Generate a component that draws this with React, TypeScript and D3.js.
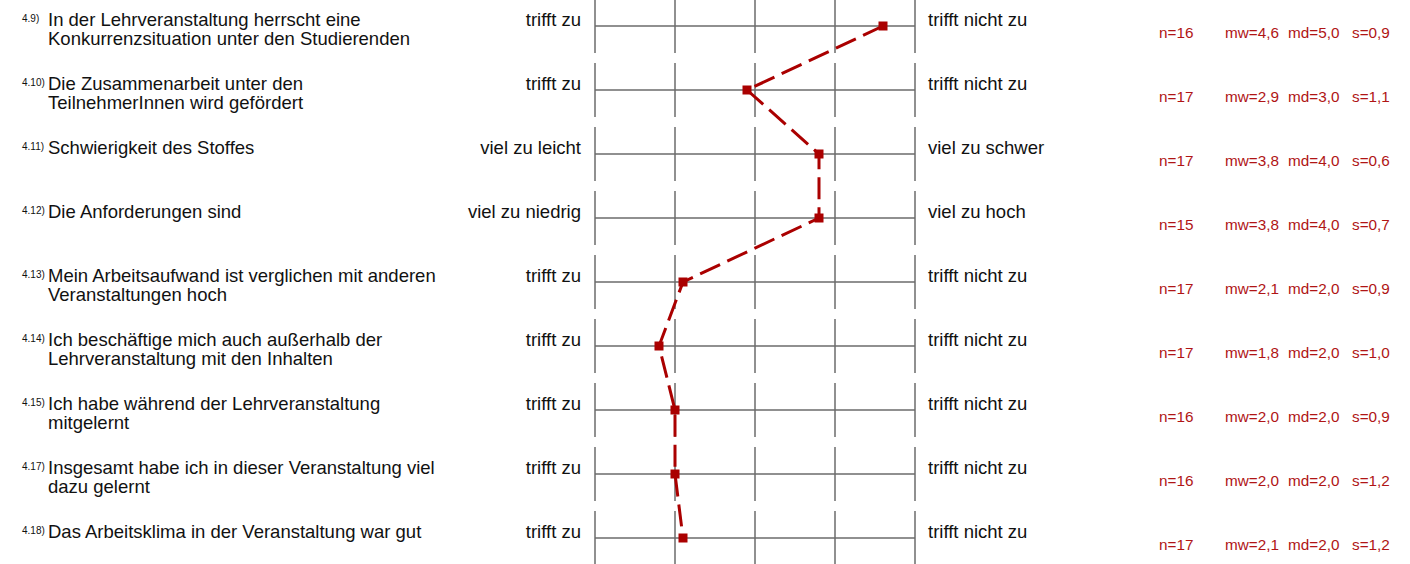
import React from "react";
import * as d3 from "d3";

const ids = ["4.9)", "4.10)", "4.11)", "4.12)", "4.13)", "4.14)", "4.15)", "4.17)", "4.18)"];
const questions: string[][] = [
  ["In der Lehrveranstaltung herrscht eine", "Konkurrenzsituation unter den Studierenden"],
  ["Die Zusammenarbeit unter den", "TeilnehmerInnen wird gefördert"],
  ["Schwierigkeit des Stoffes"],
  ["Die Anforderungen sind"],
  ["Mein Arbeitsaufwand ist verglichen mit anderen", "Veranstaltungen hoch"],
  ["Ich beschäftige mich auch außerhalb der", "Lehrveranstaltung mit den Inhalten"],
  ["Ich habe während der Lehrveranstaltung", "mitgelernt"],
  ["Insgesamt habe ich in dieser Veranstaltung viel", "dazu gelernt"],
  ["Das Arbeitsklima in der Veranstaltung war gut"],
];
const leftLabels = ["trifft zu", "trifft zu", "viel zu leicht", "viel zu niedrig", "trifft zu", "trifft zu", "trifft zu", "trifft zu", "trifft zu"];
const rightLabels = ["trifft nicht zu", "trifft nicht zu", "viel zu schwer", "viel zu hoch", "trifft nicht zu", "trifft nicht zu", "trifft nicht zu", "trifft nicht zu", "trifft nicht zu"];
const nValues = [16, 17, 17, 15, 17, 17, 16, 16, 17];
const means = [4.6, 2.9, 3.8, 3.8, 2.1, 1.8, 2.0, 2.0, 2.1];
const medians = [5.0, 3.0, 4.0, 4.0, 2.0, 2.0, 2.0, 2.0, 2.0];
const stdDevs = [0.9, 1.1, 0.6, 0.7, 0.9, 1.0, 0.9, 1.2, 1.2];
const scaleTicks = [1, 2, 3, 4, 5];

const W = 1410;
const H = 564;
const FONT = "'Liberation Sans', Arial, sans-serif";
const RED = "#aa0000";
const STAT_RED = "#b01515";
const GRID = "#6b6b6b";
const LABEL_SIZE = 18.5;
const STAT_SIZE = 15.3;

const fmt = (v: number) => v.toFixed(1).replace(".", ",");

export default function App() {
  const x = d3.scaleLinear().domain([1, 5]).range([595, 915]);
  const y = d3
    .scalePoint<number>()
    .domain(d3.range(ids.length))
    .range([26, 538]);

  const pts: [number, number][] = means.map((m, i) => [x(m), y(i)!]);
  const line = d3.line()(pts) || "";
  const half = 27;
  const statY = 12;

  return (
    <div style={{ position: "absolute", left: 0, top: 0 }}>
      <svg width={W} height={H} style={{ display: "block", background: "#fff" }} fontFamily={FONT}>
        {ids.map((id, i) => {
          const cy = y(i)!;
          return (
            <g key={id}>
              <text x={22} y={cy - 4} fontSize={10} fill="#111">
                {id}
              </text>
              {questions[i].map((q, j) => (
                <text key={j} x={48} y={cy + j * 19} fontSize={LABEL_SIZE} fill="#111">
                  {q}
                </text>
              ))}
              <text x={581} y={cy} fontSize={LABEL_SIZE} fill="#111" textAnchor="end">
                {leftLabels[i]}
              </text>
              <text x={928} y={cy} fontSize={LABEL_SIZE} fill="#111">
                {rightLabels[i]}
              </text>
              <line x1={x(1)} x2={x(5)} y1={cy} y2={cy} stroke={GRID} strokeWidth={1.5} />
              {scaleTicks.map((t) => (
                <line
                  key={t}
                  x1={x(t)}
                  x2={x(t)}
                  y1={cy - half}
                  y2={cy + half}
                  stroke={GRID}
                  strokeWidth={1.5}
                />
              ))}
              <text x={1159} y={cy + statY} fontSize={STAT_SIZE} fill={STAT_RED}>
                {`n=${nValues[i]}`}
              </text>
              <text x={1225} y={cy + statY} fontSize={STAT_SIZE} fill={STAT_RED}>
                {`mw=${fmt(means[i])}`}
              </text>
              <text x={1288} y={cy + statY} fontSize={STAT_SIZE} fill={STAT_RED}>
                {`md=${fmt(medians[i])}`}
              </text>
              <text x={1352} y={cy + statY} fontSize={STAT_SIZE} fill={STAT_RED}>
                {`s=${fmt(stdDevs[i])}`}
              </text>
            </g>
          );
        })}
        <path d={line} fill="none" stroke={RED} strokeWidth={3} strokeDasharray="22,8" />
        {pts.map(([px, py], i) => (
          <rect key={i} x={px - 4.5} y={py - 4.5} width={9} height={9} fill={RED} />
        ))}
      </svg>
    </div>
  );
}
